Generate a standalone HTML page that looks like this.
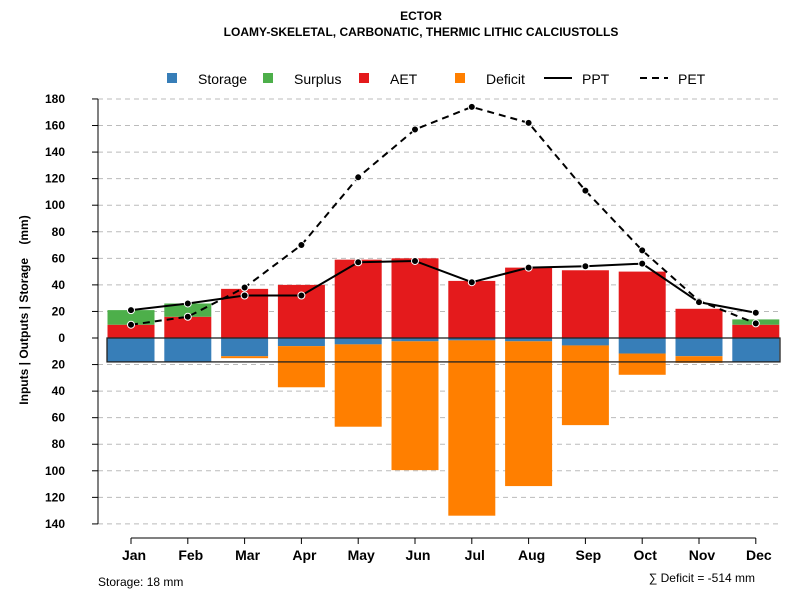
<!DOCTYPE html>
<html><head><meta charset="utf-8"><style>
body{margin:0;background:#fff;}
svg{display:block;font-family:"Liberation Sans",sans-serif;}
</style></head><body>
<svg id="c" width="800" height="600" xmlns="http://www.w3.org/2000/svg">
<text x="421" y="20" text-anchor="middle" font-size="12" font-weight="bold">ECTOR</text>
<text x="421" y="36" text-anchor="middle" font-size="12" font-weight="bold">LOAMY-SKELETAL, CARBONATIC, THERMIC LITHIC CALCIUSTOLLS</text>
<text transform="translate(28,310) rotate(-90)" text-anchor="middle" font-size="12" font-weight="bold" xml:space="preserve" style="white-space:pre">Inputs | Outputs | Storage    (mm)</text>
<g font-size="14">
<rect x="167" y="73" width="10" height="10" fill="#377eb8"/>
<text x="198" y="84">Storage</text>
<rect x="263" y="73" width="10" height="10" fill="#4daf4a"/>
<text x="294" y="84">Surplus</text>
<rect x="359" y="73" width="10" height="10" fill="#e41a1c"/>
<text x="390" y="84">AET</text>
<rect x="455" y="73" width="10" height="10" fill="#ff7f00"/>
<text x="486" y="84">Deficit</text>
<line x1="544" y1="78" x2="572" y2="78" stroke="#000" stroke-width="2"/>
<text x="582" y="84">PPT</text>
<line x1="640" y1="78" x2="668" y2="78" stroke="#000" stroke-width="2" stroke-dasharray="7,5"/>
<text x="678" y="84">PET</text>
</g>
<g id="grid"></g><g id="bars"></g><g id="lines"></g><g id="axes"></g>
<text x="98" y="586" font-size="12">Storage: 18 mm</text>
<text x="755" y="582" text-anchor="end" font-size="12">∑ Deficit = -514 mm</text>
</svg>
<script>
const months=["Jan","Feb","Mar","Apr","May","Jun","Jul","Aug","Sep","Oct","Nov","Dec"];
const storage=[18,18,13.7,6.1,4.8,2.5,1.8,2.5,5.6,11.7,13.7,18];
const deficit=[0,0,1.5,31,62,97,132,109,60,16,5,0];
const aet=[10,16,37,40,59,60,43,53,51,50,22,10];
const surplus=[11,10,0,0,0,0,0,0,0,0,0,4];
const ppt=[21,26,32,32,57,58,42,53,54,56,27,19];
const pet=[10,16,38,70,121,157,174,162,111,66,28,11];
const yTicks=[180,160,140,120,100,80,60,40,20,0,-20,-40,-60,-80,-100,-120,-140];
const capacity=18;
const NS="http://www.w3.org/2000/svg";
const y=v=>338-v*1.328;
const x=i=>131+i*56.8;
const bw=47;
function mk(p,t,a){const e=document.createElementNS(NS,t);for(const k in a)e.setAttribute(k,a[k]);document.getElementById(p).appendChild(e);return e;}
yTicks.forEach(v=>{
  if(v!==0){const g=mk("grid","line",{x1:98,x2:780,y1:y(v),y2:y(v),stroke:"#bbb","stroke-dasharray":"5,4"});
  
  }
  const t=mk("axes","line",{x1:92,x2:98,y1:y(v),y2:y(v),stroke:"#000"});
  
  
  const l=mk("axes","text",{x:65,y:y(v)+4,"text-anchor":"end","font-size":"12","font-weight":"bold"});
  l.textContent=Math.abs(v);
  
  
});
const ax=mk("axes","line",{x1:98,x2:98,y1:y(180),y2:y(-140),stroke:"#000"});


const bx=mk("axes","line",{x1:x(0),x2:x(11),y1:538,y2:538,stroke:"#000"});


months.forEach((m,i)=>{
  const cx=x(i);
  const r1=mk("bars","rect",{x:cx-bw/2,y:y(aet[i]),width:bw,height:y(0)-y(aet[i]),fill:"#e41a1c"});
  
  
  if(surplus[i]>0){const r=mk("bars","rect",{x:cx-bw/2,y:y(aet[i]+surplus[i]),width:bw,height:y(aet[i])-y(aet[i]+surplus[i]),fill:"#4daf4a"});
  
  }
  const r2=mk("bars","rect",{x:cx-bw/2,y:y(0),width:bw,height:y(-storage[i])-y(0),fill:"#377eb8"});
  
  
  if(deficit[i]>0){const r=mk("bars","rect",{x:cx-bw/2,y:y(-storage[i]),width:bw,height:y(-storage[i]-deficit[i])-y(-storage[i]),fill:"#ff7f00"});
  
  }
  const t=mk("axes","line",{x1:cx,x2:cx,y1:538,y2:544,stroke:"#000"});
  
  
  const l=mk("axes","text",{x:cx+3,y:560,"text-anchor":"middle","font-size":"14","font-weight":"bold"});
  l.textContent=m;
  
  
});
const box=mk("bars","rect",{x:107,y:y(0),width:673,height:y(-capacity)-y(0),fill:"none",stroke:"#222","stroke-width":1.3});


function series(arr,name,dash){
  const p=mk("lines","polyline",{points:arr.map((v,i)=>x(i)+","+y(v)).join(" "),fill:"none",stroke:"#000","stroke-width":2,"stroke-dasharray":dash});
  
  
  arr.forEach((v,i)=>{const c=mk("lines","circle",{cx:x(i),cy:y(v),r:3.5,fill:"#000",stroke:"#fff","stroke-width":1});
  
  });
}
series(pet,"pet","7,5");
series(ppt,"ppt","none");
</script>
</body></html>
